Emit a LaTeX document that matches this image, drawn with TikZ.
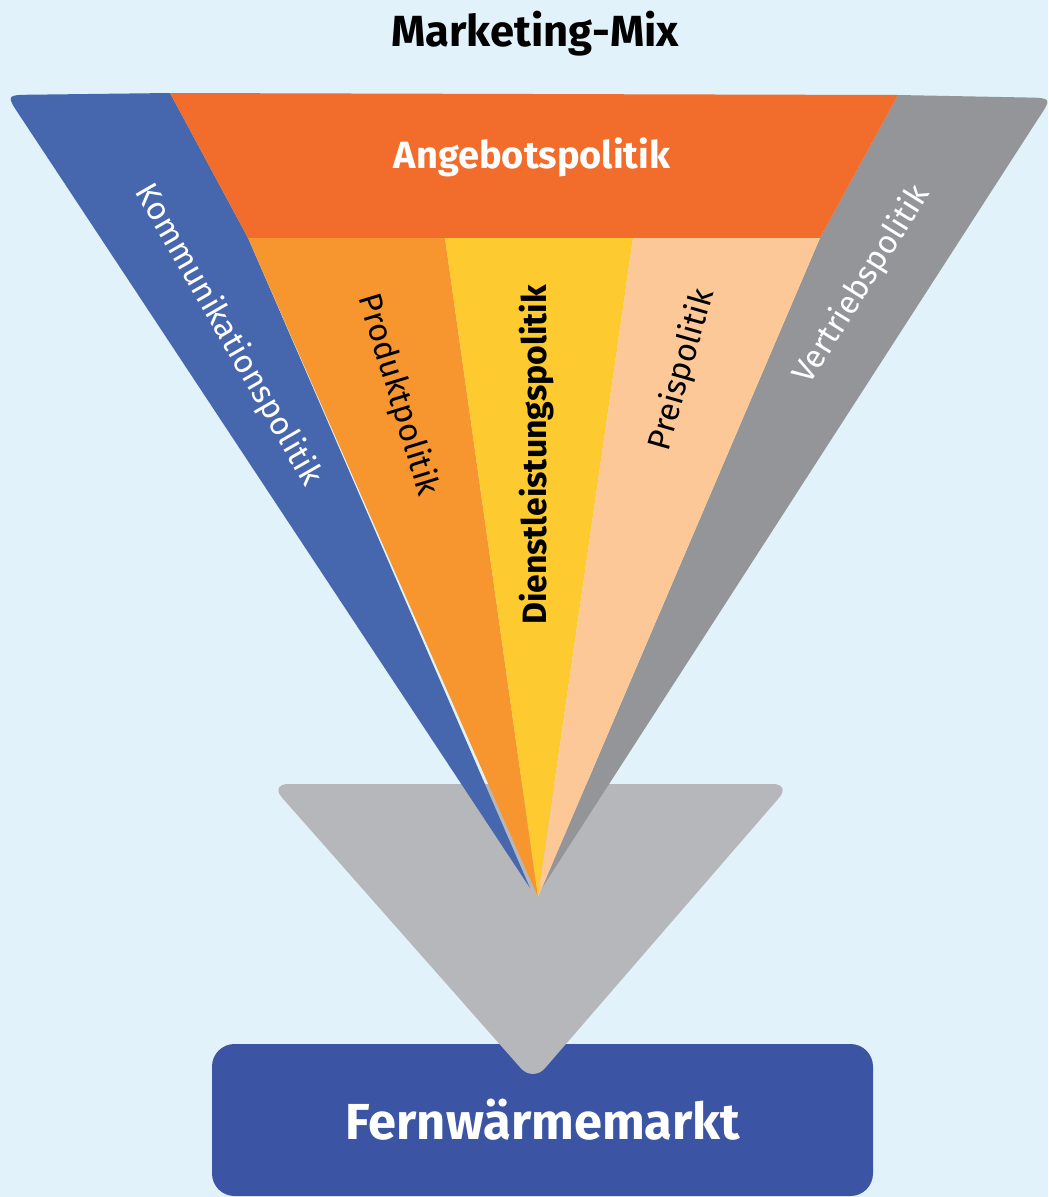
\documentclass[tikz,border=0pt]{standalone}
\usepackage{fontspec}
\setmainfont{Fira Sans}
\definecolor{bg}{HTML}{E1F2FA}
\definecolor{kommblue}{HTML}{4666AE}
\definecolor{angebot}{HTML}{F26C2B}
\definecolor{produkt}{HTML}{F7962E}
\definecolor{dienst}{HTML}{FDCA2F}
\definecolor{preis}{HTML}{FDC897}
\definecolor{vertrieb}{HTML}{939598}
\definecolor{arrowgray}{HTML}{B6B7BA}
\definecolor{boxblue}{HTML}{3B54A4}

\begin{document}
\begin{tikzpicture}[x=0.025cm,y=-0.025cm,
  lbl/.style={inner sep=0pt,font=\fontsize{23}{26}\selectfont},
  blbl/.style={inner sep=0pt,font=\bfseries\fontsize{24}{28}\selectfont}]
\useasboundingbox (0,0) rectangle (1048,1197);
\fill[bg] (0,0) rectangle (1048,1197);
\node[inner sep=0pt,font=\bfseries\fontsize{31}{35}\selectfont] (title) at (535,34) {Marketing-Mix};
% target market
\fill[boxblue,rounded corners=16pt] (212,1044) rectangle (873,1196);
\node[inner sep=0pt,text=white,font=\bfseries\fontsize{36}{40}\selectfont] (markt) at (543,1120) {Fernwärmemarkt};
\fill[arrowgray,rounded corners=13pt] (270,784) -- (791,784) -- (533,1082) -- cycle;
% funnel
\fill[kommblue] (170,93) -- (248,238) -- (530,888) -- (20,116) .. controls (6,95) .. (31,94.7) -- cycle;
\fill[vertrieb] (898,95) -- (820,238) -- (542,888) -- (1038,119) .. controls (1052,98) .. (1027,97.5) -- cycle;
\fill[angebot] (170,93) -- (898,95) -- (820,238) -- (248,238) -- cycle;
\fill[produkt] (248,238) -- (445,238) -- (538,897) -- cycle;
\fill[dienst] (445,238) -- (633,238) -- (538,897) -- cycle;
\fill[preis] (633,238) -- (820,238) -- (538,897) -- cycle;
\node[blbl,text=white,font=\bfseries\fontsize{27}{31}\selectfont] (angebotn) at (532,157) {Angebotspolitik};
\node[lbl,text=white,rotate=-60] (kommn) at (228,335) {Kommunikationspolitik};
\node[lbl,rotate=-73] (produktn) at (398,395) {Produktpolitik};
\node[blbl,rotate=90] (dienstn) at (537,455) {Dienstleistungspolitik};
\node[lbl,rotate=74] (preisn) at (682,370) {Preispolitik};
\node[lbl,text=white,rotate=58] (vertriebn) at (862,285) {Vertriebspolitik};
\end{tikzpicture}
\end{document}
